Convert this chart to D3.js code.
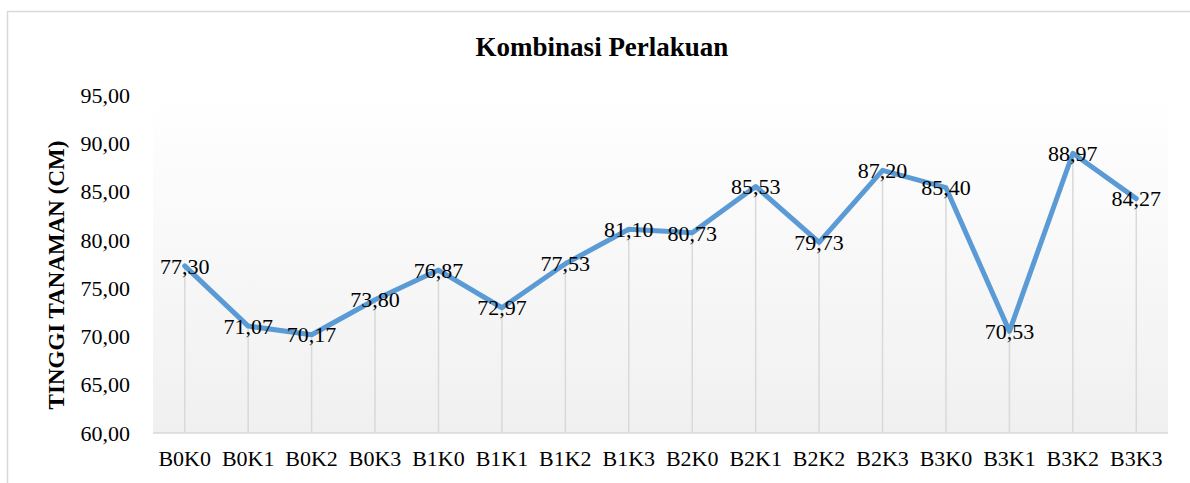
<!DOCTYPE html>
<html>
<head>
<meta charset="utf-8">
<script src="https://cdn.jsdelivr.net/npm/d3@7"></script>
<style>
  body { margin: 0; background: #fff; }
</style>
</head>
<body>
<div id="chart"></div>
<script>
// data
const categories = ["B0K0", "B0K1", "B0K2", "B0K3", "B1K0", "B1K1", "B1K2", "B1K3",
                    "B2K0", "B2K1", "B2K2", "B2K3", "B3K0", "B3K1", "B3K2", "B3K3"];
const heights = [77.30, 71.07, 70.17, 73.80, 76.87, 72.97, 77.53, 81.10,
                 80.73, 85.53, 79.73, 87.20, 85.40, 70.53, 88.97, 84.27];
const yTicks = [60, 65, 70, 75, 80, 85, 90, 95];
const chartTitle = "Kombinasi Perlakuan";
const yTitle = "TINGGI TANAMAN (CM)";

const W = 1190, H = 483;
const margin = {top: 95, right: 22, bottom: 50, left: 153};
const width = W - margin.left - margin.right;
const height = H - margin.top - margin.bottom;
const serif = '"Liberation Serif"';

const fmt = v => v.toFixed(2).replace(".", ",");

const svg = d3.select("#chart").append("svg")
    .attr("width", W)
    .attr("height", H);

// outer chart border
svg.append("rect")
    .attr("x", 7.5).attr("y", 11.5)
    .attr("width", W + 10).attr("height", H + 10)
    .attr("fill", "#fff")
    .attr("stroke", "#d9d9d9")
    .attr("stroke-width", 1.5);

// plot background gradient
const grad = svg.append("defs").append("linearGradient")
    .attr("id", "bg").attr("x1", 0).attr("y1", 0).attr("x2", 0).attr("y2", 1);
grad.append("stop").attr("offset", "0%").attr("stop-color", "#ffffff");
grad.append("stop").attr("offset", "100%").attr("stop-color", "#f0f0f0");

const g = svg.append("g").attr("transform", `translate(${margin.left},${margin.top})`);

const x = d3.scalePoint().domain(categories).range([0, width]).padding(0.5);
const y = d3.scaleLinear().domain([60, 95]).range([height, 0]);

g.append("rect")
    .attr("width", width).attr("height", height)
    .attr("fill", "url(#bg)");

// drop lines
g.selectAll(".drop")
    .data(heights)
    .enter().append("line")
    .attr("class", "drop")
    .attr("x1", (d, i) => x(categories[i]))
    .attr("x2", (d, i) => x(categories[i]))
    .attr("y1", d => y(d))
    .attr("y2", height)
    .attr("stroke", "#d9d9d9")
    .attr("stroke-width", 1.5);

// x axis line
g.append("line")
    .attr("x1", 0).attr("x2", width)
    .attr("y1", height).attr("y2", height)
    .attr("stroke", "#d9d9d9")
    .attr("stroke-width", 1.5);

// y tick labels
g.selectAll(".ytick")
    .data(yTicks)
    .enter().append("text")
    .attr("class", "ytick")
    .attr("x", -23)
    .attr("y", d => y(d))
    .attr("dy", "0.35em")
    .attr("text-anchor", "end")
    .style("font-family", serif)
    .style("font-size", "22px")
    .text(d => fmt(d));

// x labels
g.selectAll(".xtick")
    .data(categories)
    .enter().append("text")
    .attr("class", "xtick")
    .attr("x", d => x(d))
    .attr("y", height + 33)
    .attr("text-anchor", "middle")
    .style("font-family", serif)
    .style("font-size", "22px")
    .text(d => d);

// line
const line = d3.line()
    .x((d, i) => x(categories[i]))
    .y(d => y(d));

g.append("path")
    .datum(heights)
    .attr("d", line)
    .attr("fill", "none")
    .attr("stroke", "#5b9bd5")
    .attr("stroke-width", 5)
    .attr("stroke-linejoin", "round")
    .attr("stroke-linecap", "round");

// data labels, centered on points
g.selectAll(".lbl")
    .data(heights)
    .enter().append("text")
    .attr("class", "lbl")
    .attr("x", (d, i) => x(categories[i]))
    .attr("y", d => y(d))
    .attr("dy", "0.35em")
    .attr("text-anchor", "middle")
    .style("font-family", serif)
    .style("font-size", "22px")
    .text(d => fmt(d));

// title
svg.append("text")
    .attr("x", 602)
    .attr("y", 56)
    .attr("text-anchor", "middle")
    .style("font-family", serif)
    .style("font-size", "27px")
    .style("font-weight", "bold")
    .text(chartTitle);

// y axis title
svg.append("text")
    .attr("transform", `translate(64,${275}) rotate(-90)`)
    .attr("text-anchor", "middle")
    .style("font-family", serif)
    .style("font-size", "23px")
    .style("font-weight", "bold")
    .text(yTitle);
</script>
</body>
</html>
